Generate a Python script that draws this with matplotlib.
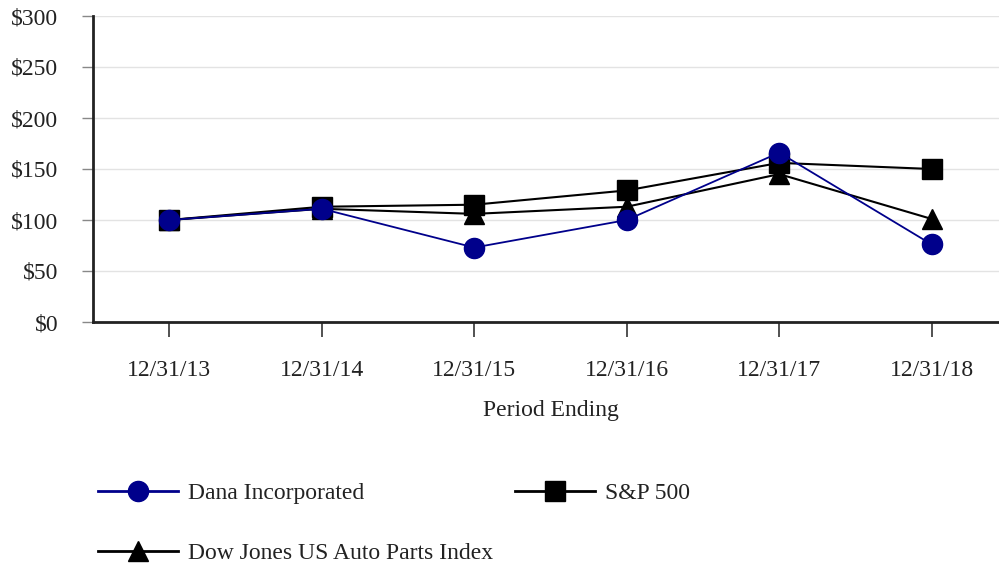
import matplotlib
matplotlib.use("Agg")
import matplotlib.pyplot as plt
from matplotlib.lines import Line2D

categories = ["12/31/13", "12/31/14", "12/31/15", "12/31/16", "12/31/17", "12/31/18"]
dana = [100, 111, 73, 100, 166, 76]
sp500 = [100, 113, 115, 129, 156, 150]
dowjones = [100, 111, 106, 113, 145, 101]
y_ticks = [0, 50, 100, 150, 200, 250, 300]
y_labels = ["$0", "$50", "$100", "$150", "$200", "$250", "$300"]

plt.rcParams['font.family'] = ['Liberation Serif', 'DejaVu Serif']
FS = 17

W, H = 999, 565
fig = plt.figure(figsize=(W/100, H/100), dpi=100)
left, right, top, bottom = 93, 1008, 16, 322
ax = fig.add_axes([left/W, 1 - bottom/H, (right-left)/W, (bottom-top)/H])

x = list(range(len(categories)))
navy = "#00008B"
ax.plot(x, dowjones, color="black", lw=1.5, marker="^", markersize=15, markerfacecolor="black", zorder=3)
ax.plot(x, sp500, color="black", lw=1.5, marker="s", markersize=15, markerfacecolor="black", zorder=4)
ax.plot(x, dana, color=navy, lw=1.3, marker="o", markersize=14.5, markerfacecolor=navy, markeredgecolor=navy, zorder=5)

ax.set_xlim(-0.5, 5.5)
ax.set_ylim(0, 300)
ax.set_yticks(y_ticks)
ax.set_yticklabels(y_labels, fontsize=FS, color="#222222")
ax.set_xticks(x)
ax.set_xticklabels(categories, fontsize=FS, color="#222222")
ax.yaxis.grid(True, color="#e3e3e3", lw=1)
ax.set_axisbelow(True)
for s in ["top", "right"]:
    ax.spines[s].set_visible(False)
for s in ["left", "bottom"]:
    ax.spines[s].set_linewidth(2)
    ax.spines[s].set_color("#222222")
ax.tick_params(axis="y", length=8, width=1, color="#888888", pad=17)
ax.tick_params(axis="x", length=11, width=1.2, color="#333333", pad=16)
ax.set_xlabel("Period Ending", fontsize=FS, labelpad=14, color="#222222")

# legend drawn manually in figure pixel coordinates
def legend_entry(x0, y0, marker, color, ms, label):
    fx = lambda px: px / W
    fy = lambda py: 1 - py / H
    fig.add_artist(Line2D([fx(x0), fx(x0 + 80)], [fy(y0), fy(y0)], color=color, lw=2,
                          transform=fig.transFigure))
    fig.add_artist(Line2D([fx(x0 + 40)], [fy(y0)], color=color, marker=marker, markersize=ms,
                          markerfacecolor=color, markeredgecolor=color, transform=fig.transFigure))
    fig.text(fx(x0 + 90), fy(y0), label, fontsize=FS, va="center_baseline", ha="left", color="#222222")

legend_entry(98, 491, "o", navy, 14.5, "Dana Incorporated")
legend_entry(515, 491, "s", "black", 15, "S&P 500")
legend_entry(98, 551, "^", "black", 15, "Dow Jones US Auto Parts Index")

fig.savefig("out.png", dpi=100)
